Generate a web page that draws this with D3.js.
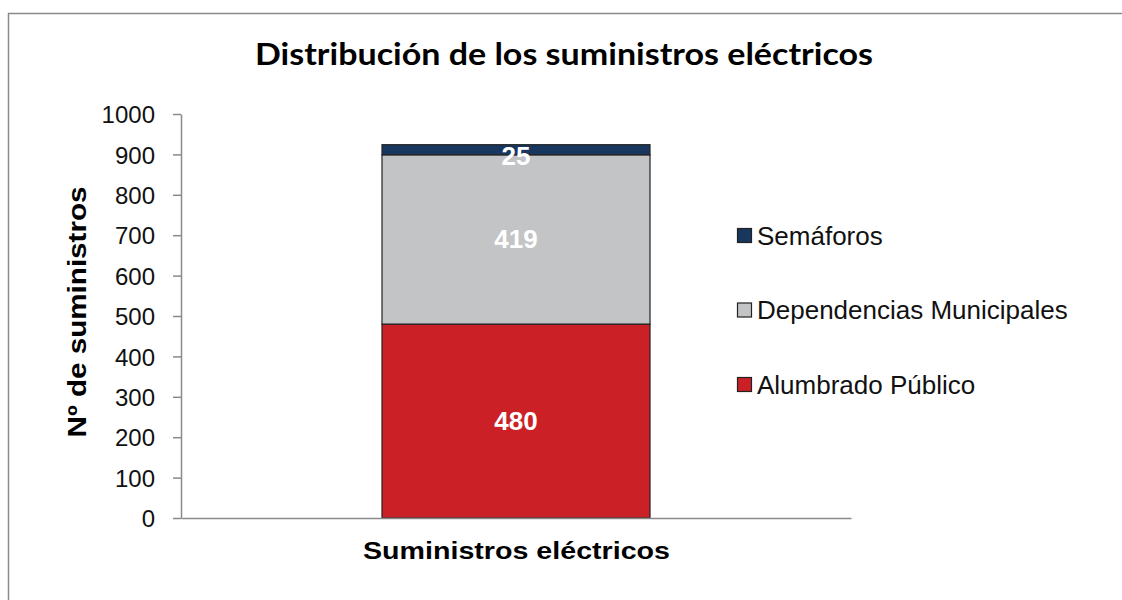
<!DOCTYPE html>
<html><head><meta charset="utf-8">
<script src="https://cdn.jsdelivr.net/npm/d3@7"></script>
<style>body{margin:0;background:#fff;overflow:hidden}svg{display:block}</style>
</head><body>
<svg id="c" width="1122" height="600"></svg>
<script>
const categories = ["Suministros eléctricos"];
const seriesNames = ["Alumbrado Público", "Dependencias Municipales", "Semáforos"];
const alumbrado = [480];
const dependencias = [419];
const semaforos = [25];
const yTicks = [0,100,200,300,400,500,600,700,800,900,1000];
const colors = ["#CC2027", "#C3C4C6", "#17375E"];

const svg = d3.select("#c");
// outer chart border (left and top edges visible only)
svg.append("path").attr("d","M8.5,600 L8.5,13.5 L1122,13.5")
  .attr("fill","none").attr("stroke","#8a8a8a").attr("stroke-width",1.5);

const plot = {left:181, right:851, top:114, bottom:518};
const y = d3.scaleLinear().domain([0,1000]).range([plot.bottom, plot.top]);
const x = d3.scaleBand().domain(categories).range([plot.left, plot.right]).paddingInner(0.6).paddingOuter(0.3);

const rows = categories.map((c,i)=>({cat:c, "Alumbrado Público":alumbrado[i], "Dependencias Municipales":dependencias[i], "Semáforos":semaforos[i]}));
const stack = d3.stack().keys(seriesNames)(rows);

// title
svg.append("text").attr("x",564).attr("y",65).attr("text-anchor","middle")
  .attr("font-family","Lato, 'Open Sans', sans-serif").attr("font-weight","bold").attr("font-size",30)
  .attr("textLength",618).attr("lengthAdjust","spacingAndGlyphs").attr("fill","#000")
  .text("Distribución de los suministros eléctricos");

// bars
const g = svg.append("g");
stack.forEach((s,si)=>{
  g.selectAll(null).data(s).enter().append("rect")
    .attr("x",d=>x(d.data.cat)).attr("width",x.bandwidth())
    .attr("y",d=>y(d[1])).attr("height",d=>y(d[0])-y(d[1]))
    .attr("fill",colors[si]).attr("stroke","#222").attr("stroke-width",1.2);
});
// labels
stack.forEach((s,si)=>{
  g.selectAll(null).data(s).enter().append("text")
    .attr("x",d=>x(d.data.cat)+x.bandwidth()/2)
    .attr("y",d=>Math.max((y(d[0])+y(d[1]))/2, y(d[1])+11)+9)
    .attr("text-anchor","middle").attr("font-family","'Liberation Sans', Arial, sans-serif")
    .attr("font-weight","bold").attr("font-size",26).attr("fill","#fff")
    .text(d=>d[1]-d[0]);
});

// y axis
const yAxis = d3.axisLeft(y).tickValues(yTicks).tickFormat(d3.format("d")).tickSize(8).tickPadding(18).tickSizeOuter(0);
const ya = svg.append("g").attr("transform",`translate(${plot.left},0)`).call(yAxis);
ya.select(".domain").attr("stroke","#8a8a8a").attr("stroke-width",1.5);
ya.selectAll(".tick line").attr("stroke","#8a8a8a").attr("stroke-width",1.5);
ya.selectAll(".tick text").attr("font-family","'Liberation Sans', Arial, sans-serif").attr("font-size",24).attr("fill","#111").attr("dy","0.36em");

// x axis
const xAxis = d3.axisBottom(x).tickSize(0).tickSizeOuter(0).tickFormat("");
const xa = svg.append("g").attr("transform",`translate(0,${plot.bottom})`).call(xAxis);
xa.select(".domain").attr("stroke","#8a8a8a").attr("stroke-width",1.5);

// x category label
svg.append("text").attr("x",516.5).attr("y",559).attr("text-anchor","middle")
  .attr("font-family","'Liberation Sans', Arial, sans-serif").attr("font-weight","bold").attr("font-size",23)
  .attr("textLength",307).attr("lengthAdjust","spacingAndGlyphs").attr("fill","#000")
  .text(categories[0]);

// y axis title
svg.append("text").attr("transform","translate(86,312) rotate(-90)").attr("text-anchor","middle")
  .attr("font-family","'Liberation Sans', Arial, sans-serif").attr("font-weight","bold").attr("font-size",26)
  .attr("textLength",251).attr("lengthAdjust","spacingAndGlyphs").attr("fill","#000")
  .text("Nº de suministros");

// legend (reverse order)
const legendItems = seriesNames.map((n,i)=>({name:n,color:colors[i]})).reverse();
const lg = svg.append("g");
legendItems.forEach((d,i)=>{
  const cy = 235.5 + i*74.5;
  lg.append("rect").attr("x",737.5).attr("y",cy-7).attr("width",14).attr("height",14)
    .attr("fill",d.color).attr("stroke","#222").attr("stroke-width",1.2);
  lg.append("text").attr("x",757).attr("y",cy+9).attr("font-family","'Liberation Sans', Arial, sans-serif")
    .attr("font-size",26).attr("fill","#111").text(d.name);
});
</script>
</body></html>
